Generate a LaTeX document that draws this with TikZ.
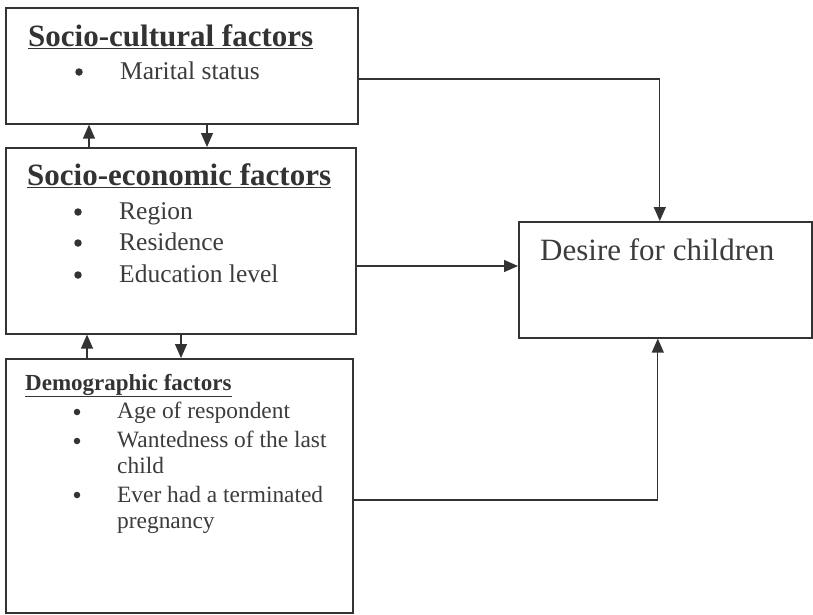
\documentclass[tikz,border=0pt]{standalone}
\usepackage{fontspec}
\setmainfont{Liberation Serif}
\usetikzlibrary{arrows.meta}
\definecolor{ink}{HTML}{333333}
\definecolor{txt}{HTML}{3C3C3C}
\tikzset{
  box/.style={draw=ink, line width=1.6pt, rectangle, anchor=north west, inner sep=0pt},
  arr/.style={draw=ink, line width=1.3pt, -{Triangle[width=12pt,length=14pt]}},
  head/.style={anchor=base west, inner sep=0pt, text=ink, font=\fontsize{31}{31}\selectfont\bfseries},
  headsm/.style={anchor=base west, inner sep=0pt, text=ink, font=\fontsize{23}{23}\selectfont\bfseries},
  item/.style={anchor=base west, inner sep=0pt, text=txt, font=\fontsize{25.5}{25.5}\selectfont},
  itemsm/.style={anchor=base west, inner sep=0pt, text=txt, font=\fontsize{23.4}{23.4}\selectfont},
  bul/.style={circle, fill=ink, inner sep=0pt, minimum size=7.5pt},
  bulsm/.style={circle, fill=ink, inner sep=0pt, minimum size=6.5pt},
  desire/.style={anchor=base west, inner sep=0pt, text=txt, font=\fontsize{31}{31}\selectfont}
}
\begin{document}
\begin{tikzpicture}[x=1pt,y=-1pt]
\useasboundingbox[fill=white] (0,0) rectangle (813,614);
% boxes
\node[box, minimum width=352pt, minimum height=116pt] (b1) at (5,7) {};
\node[box, minimum width=350pt, minimum height=186pt] (b2) at (5,147) {};
\node[box, minimum width=347pt, minimum height=254pt] (b3) at (5,358) {};
\node[box, minimum width=293pt, minimum height=116pt] (d) at (518,221) {};
% box 1 text
\node[head] (h1) at (28,46) {\underline{Socio-cultural factors}};
\node[bul] (b1i1) at (79,72) {};
\node[item] (t1i1) at (120,79) {Marital status};
% box 2 text
\node[head] (h2) at (27,185) {\underline{Socio-economic factors}};
\node[bul] (b2i1) at (78,212) {};
\node[item] (t2i1) at (119,219) {Region};
\node[bul] (b2i2) at (78,243) {};
\node[item] (t2i2) at (119,250) {Residence};
\node[bul] (b2i3) at (78,275) {};
\node[item] (t2i3) at (119,282) {Education level};
% box 3 text
\node[headsm] (h3) at (25,390) {\underline{Demographic factors}};
\node[bulsm] (b3i1) at (77,412) {};
\node[itemsm] (t3i1) at (117,418) {Age of respondent};
\node[bulsm] (b3i2) at (77,441) {};
\node[itemsm] (t3i2) at (117,447) {Wantedness of the last};
\node[itemsm] (t3i2b) at (117,473) {child};
\node[bulsm] (b3i3) at (77,495) {};
\node[itemsm] (t3i3) at (117,502) {Ever had a terminated};
\node[itemsm] (t3i3b) at (117,528) {pregnancy};
% desire text
\node[desire] (dt) at (540,260) {Desire for children};
% connectors
\draw[arr] (b1.east |- 0,79) -| ([xshift=-5.5pt]d.north);
\draw[arr] (b2.east |- 0,266) -- (d.west |- 0,266);
\draw[arr] (b3.east |- 0,500) -| ([xshift=-7.5pt]d.south);
\draw[arr] (b2.north -| 89,0) -- (b1.south -| 89,0);
\draw[arr] (b1.south -| 207,0) -- (b2.north -| 207,0);
\draw[arr] (b3.north -| 87,0) -- (b2.south -| 87,0);
\draw[arr] (b2.south -| 181,0) -- (b3.north -| 181,0);
\end{tikzpicture}
\end{document}
